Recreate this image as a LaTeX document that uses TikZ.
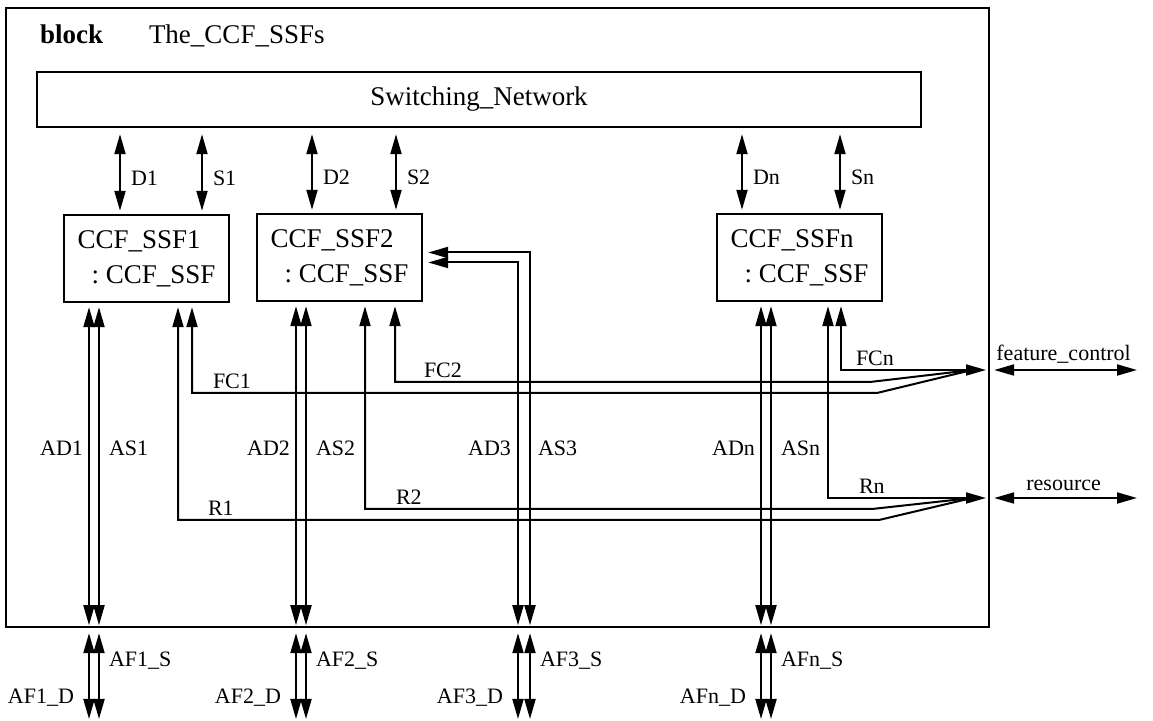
\documentclass[tikz,border=0pt]{standalone}
\usepackage{fontspec}
\setmainfont{Liberation Serif}
\usetikzlibrary{arrows.meta,positioning,calc}

\begin{document}
\begin{tikzpicture}[x=0.5pt,y=-0.5pt,line width=1pt,
    >={Triangle[length=10pt,width=5.5pt]},
    big/.style={font=\fontsize{13.5}{17.5}\selectfont},
    lbl/.style={font=\fontsize{11}{13}\selectfont,inner sep=0pt},
    frame/.style={draw,line width=1.2pt,inner sep=0pt},
    ssfbox/.style={frame,big,minimum width=82.5pt,minimum height=43.5pt,align=left}]
\useasboundingbox (0,0) rectangle (1153,721);

% block frame, title and switching network
\node[frame,minimum width=491.5pt,minimum height=309.5pt] (blk) at (497.5,317.5) {};
\node[anchor=base west,inner sep=0pt,font=\fontsize{13.5}{17.5}\selectfont\bfseries] (kw) at (39,44) {block};
\node[big,anchor=base west,inner sep=0pt] (bname) at (148,44) {The\_CCF\_SSFs};
\node[frame,big,minimum width=442pt,minimum height=27.5pt] (swnet) at (479,99.5) {Switching\_Network};

% the three CCF_SSF instances
\node[ssfbox] (ssf1) at (146.5,258.5) {CCF\_SSF1\\\hspace*{7pt}:\ CCF\_SSF};
\node[ssfbox] (ssf2) at (339.5,257.5) {CCF\_SSF2\\\hspace*{7pt}:\ CCF\_SSF};
\node[ssfbox] (ssfn) at (799.5,257.5) {CCF\_SSFn\\\hspace*{7pt}:\ CCF\_SSF};

% helper coordinates
\coordinate (bot) at (0,719);
\coordinate (alab) at (0,448);
\coordinate (fctip) at (986,370);
\coordinate (fcend) at (972,370);
\coordinate (rtip) at (986,498);
\coordinate (rend) at (972,498);
\coordinate (fcout) at (1137,370);
\coordinate (rout) at (1137,498);

% D and S channels to the switching network
\foreach \bx/\xd/\xs/\n in {ssf1/120/202/1, ssf2/312/396/2, ssfn/742/840/n} {
  \coordinate (xd) at (\xd,0);
  \coordinate (xs) at (\xs,0);
  \draw[<->,shorten <=3pt,shorten >=1.5pt] (xd |- swnet.south) -- (xd |- \bx.north)
    node[lbl,pos=0.58,right=5pt] {D\n};
  \draw[<->,shorten <=3pt,shorten >=1.5pt] (xs |- swnet.south) -- (xs |- \bx.north)
    node[lbl,pos=0.58,right=5pt] {S\n};
}

% AD and AS channels down to the frame
\foreach \bx/\xd/\xs/\n in {ssf1/89/99/1, ssf2/296/306/2, ssfn/761/771/n} {
  \coordinate (xd) at (\xd,0);
  \coordinate (xs) at (\xs,0);
  \draw[<->,shorten <=2pt,shorten >=1.5pt] (xd |- \bx.south) -- (xd |- blk.south);
  \draw[<->,shorten <=2pt,shorten >=1.5pt] (xs |- \bx.south) -- (xs |- blk.south);
  \node[lbl,left=2.5pt] at (xd |- alab) {AD\n};
  \node[lbl,right=4.5pt] at (xs |- alab) {AS\n};
}
\coordinate (xd3) at (518,0);
\coordinate (xs3) at (530,0);
\draw[<->,shorten <=2.5pt,shorten >=1.5pt] ($(ssf2.east)+(0,-5)$) -| (xs3 |- blk.south);
\draw[<->,shorten <=2.5pt,shorten >=1.5pt] ($(ssf2.east)+(0,5)$) -| (xd3 |- blk.south);
\node[lbl,left=3pt] at (xd3 |- alab) {AD3};
\node[lbl,right=3.5pt] at (xs3 |- alab) {AS3};

% AF channels outside the block
\foreach \xd/\xs/\n in {89/99/1, 296/306/2, 518/530/3, 761/771/n} {
  \coordinate (xd) at (\xd,0);
  \coordinate (xs) at (\xs,0);
  \draw[<->,shorten <=2.5pt] (xd |- blk.south) -- (xd |- bot)
    node[lbl,pos=0.77,left=7pt] {AF\n\_D};
  \draw[<->,shorten <=2.5pt] (xs |- blk.south) -- (xs |- bot)
    node[lbl,pos=0.36,right=4.5pt] {AF\n\_S};
}

% feature control lines
\coordinate (fc1) at (192,0);
\coordinate (fc2) at (395,0);
\coordinate (fcn) at (841,0);
\coordinate (fc1b) at (877,393);
\coordinate (fc2b) at (870,382);
\draw[<-,shorten <=2pt] (fc1 |- ssf1.south) |- (fc1b)
  node[lbl,pos=0.5,above right=1.5pt and 10pt] {FC1} -- (fcend);
\draw[<-,shorten <=2pt] (fc2 |- ssf2.south) |- (fc2b)
  node[lbl,pos=0.5,above right=1.5pt and 14pt] {FC2} -- (fcend);
\draw[<->,shorten <=2pt] (fcn |- ssfn.south) |- (fctip)
  node[lbl,pos=0.5,above right=1.5pt and 7pt] {FCn};

% resource lines
\coordinate (r1) at (178,0);
\coordinate (r2) at (365,0);
\coordinate (rn) at (828,0);
\coordinate (r1b) at (879,520);
\coordinate (r2b) at (872,509);
\draw[<-,shorten <=2pt] (r1 |- ssf1.south) |- (r1b)
  node[lbl,pos=0.5,above right=1.5pt and 14.5pt] {R1} -- (rend);
\draw[<-,shorten <=2pt] (r2 |- ssf2.south) |- (r2b)
  node[lbl,pos=0.5,above right=1.5pt and 15pt] {R2} -- (rend);
\draw[<->,shorten <=2pt] (rn |- ssfn.south) |- (rtip)
  node[lbl,pos=0.5,above right=1.5pt and 15pt] {Rn};

% external interfaces
\draw[<->,shorten <=2pt] (fctip -| blk.east) -- (fcout)
  node[lbl,midway,above=3pt] {feature\_control};
\draw[<->,shorten <=2pt] (rtip -| blk.east) -- (rout)
  node[lbl,midway,above=3pt] {resource};
\end{tikzpicture}
\end{document}
